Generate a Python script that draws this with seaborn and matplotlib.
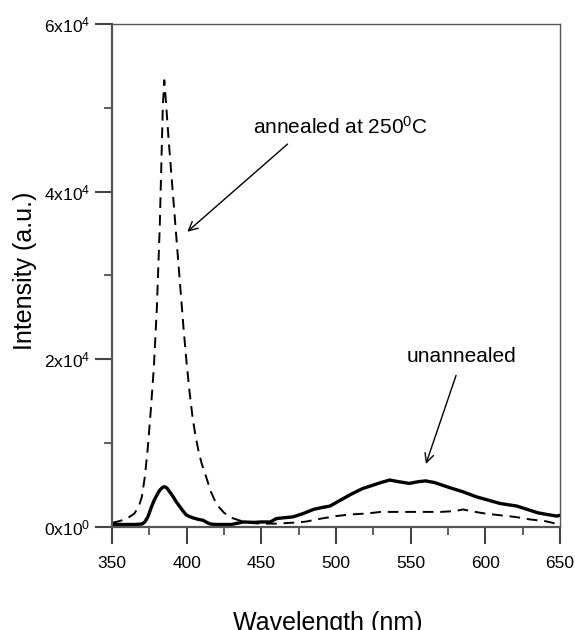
import pandas as pd
import seaborn as sns
import matplotlib
import matplotlib.pyplot as plt

matplotlib.use('Agg')

# annealed at 250 C (dashed)
wl_annealed = [350, 355, 360, 365, 368, 370, 372, 374, 376, 378, 380, 382, 383, 384, 385,
               386, 388, 390, 392, 394, 396, 398, 400, 402, 404, 406, 408, 410, 413, 416,
               420, 425, 430, 435, 440, 445, 450, 455, 460, 465, 470, 475, 480, 490, 500,
               510, 520, 530, 540, 550, 560, 570, 580, 585, 590, 600, 610, 620, 630, 640,
               645, 650]
int_annealed = [500, 700, 1000, 1600, 2500, 3600, 6000, 9500, 14000, 19000, 26000, 36000, 43000, 50000, 53300,
                51000, 46000, 41500, 37000, 32500, 28000, 23500, 19500, 16000, 13000, 10800, 9000, 7600, 6000, 4300,
                2700, 1700, 1100, 800, 550, 450, 400, 400, 400, 450, 500, 550, 650, 1000, 1300,
                1500, 1600, 1800, 1800, 1800, 1800, 1800, 1900, 2100, 1900, 1600, 1400, 1200, 900, 700,
                500, 200]

# unannealed (solid)
wl_unannealed = [350, 360, 365, 370, 372, 374, 376, 378, 380, 382, 384, 385.5, 387, 389, 391,
                 393, 395.5, 398, 400, 404, 408, 411, 414, 416, 420, 430, 438, 445, 450, 456,
                 460, 465, 471, 478, 485, 490, 496, 500, 505, 510, 518, 525, 530, 536, 542,
                 549, 555, 560, 566, 576, 585, 594, 602, 610, 621, 628, 635, 641, 648, 650]
int_unannealed = [300, 300, 300, 350, 600, 1200, 2200, 3100, 3800, 4400, 4750, 4800, 4600, 4100, 3600,
                  3000, 2400, 1800, 1400, 1100, 900, 800, 500, 350, 300, 300, 600, 550, 600, 600,
                  1000, 1100, 1200, 1600, 2100, 2300, 2500, 2900, 3400, 3900, 4600, 5000, 5300, 5600, 5400,
                  5200, 5400, 5500, 5300, 4700, 4200, 3600, 3200, 2800, 2500, 2100, 1700, 1500, 1300, 1400]

x_ticks = [350, 400, 450, 500, 550, 600, 650]
y_ticks = [0, 20000, 40000, 60000]
y_tick_labels = [r'$\mathregular{0x10^{0}}$', r'$\mathregular{2x10^{4}}$',
                 r'$\mathregular{4x10^{4}}$', r'$\mathregular{6x10^{4}}$']

df_a = pd.DataFrame({'wl': wl_annealed, 'I': int_annealed})
df_u = pd.DataFrame({'wl': wl_unannealed, 'I': int_unannealed})

sns.set_style('ticks')
plt.rcParams['font.family'] = ['Liberation Sans', 'DejaVu Sans']
plt.rcParams['mathtext.fontset'] = 'custom'
plt.rcParams['mathtext.rm'] = 'Liberation Sans'
plt.rcParams['text.color'] = 'black'
plt.rcParams['axes.labelcolor'] = 'black'
plt.rcParams['xtick.labelcolor'] = 'black'
plt.rcParams['ytick.labelcolor'] = 'black'

fig = plt.figure(figsize=(5.75, 6.3), dpi=100)
ax = fig.add_axes([0.1948, 0.1635, 0.7791, 0.7984])

sns.lineplot(data=df_a, x='wl', y='I', ax=ax, color='black', linewidth=1.4,
             linestyle=(0, (5.5, 3.5)))
sns.lineplot(data=df_u, x='wl', y='I', ax=ax, color='black', linewidth=2.4)

ax.set_xlim(350, 650)
ax.set_ylim(0, 60000)
ax.set_xticks(x_ticks)
ax.set_xticklabels([str(t) for t in x_ticks])
ax.set_xticks([375, 425, 475, 525, 575, 625], minor=True)
ax.set_yticks(y_ticks)
ax.set_yticklabels(y_tick_labels)
ax.set_yticks([10000, 30000, 50000], minor=True)

ax.tick_params(axis='both', which='major', length=12, width=1.5, color='#444444',
               labelsize=12.5, labelcolor='black', direction='out')
ax.tick_params(axis='x', which='major', pad=9)
ax.tick_params(axis='y', which='major', pad=4)
ax.tick_params(axis='both', which='minor', length=6, width=1.2, color='#444444',
               direction='out')

for side in ['left', 'bottom']:
    ax.spines[side].set_color('#555555')
    ax.spines[side].set_linewidth(1.6)
for side in ['top', 'right']:
    ax.spines[side].set_color('#555555')
    ax.spines[side].set_linewidth(1.0)

ax.set_xlabel('Wavelength (nm)', fontsize=18, va='center', color='black')
ax.xaxis.set_label_coords(0.482, -0.19)
ax.set_ylabel('Intensity (a.u.)', fontsize=18, va='center', color='black')
ax.yaxis.set_label_coords(-0.194, 0.51)

ax.annotate('', xy=(399, 35000), xytext=(469, 45900),
            arrowprops=dict(arrowstyle='->', color='black', lw=1.0, mutation_scale=16))
ax.text(503, 47700, r'annealed at 250$\mathregular{^{0}}$C', fontsize=15,
        ha='center', va='center', color='black')

ax.annotate('', xy=(559.6, 7200), xytext=(581, 18400),
            arrowprops=dict(arrowstyle='->', color='black', lw=1.0, mutation_scale=16))
ax.text(583.8, 20300, 'unannealed', fontsize=15, ha='center', va='center', color='black')

plt.savefig('out.png', dpi=100)
plt.close()
